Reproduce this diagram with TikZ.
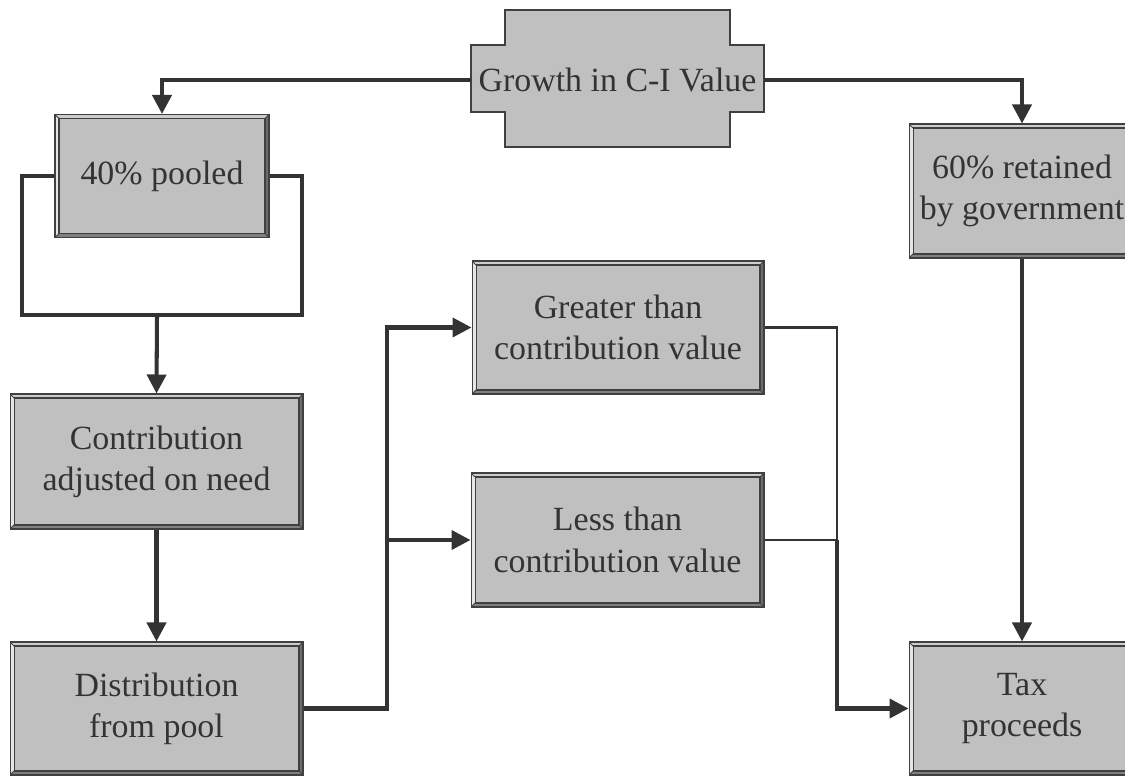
\documentclass[tikz,border=0pt]{standalone}
\usepackage{fontspec}
\setmainfont{Liberation Serif}
\usepackage{xcolor}
\usepackage{tikz}
\usetikzlibrary{arrows.meta}

\definecolor{boxgray}{RGB}{192,192,192}
\definecolor{edgegray}{RGB}{64,64,64}
\definecolor{textgray}{RGB}{51,51,51}
\definecolor{linegray}{RGB}{51,51,51}
\definecolor{bevlight}{RGB}{230,230,230}
\definecolor{bevtop}{RGB}{205,205,205}
\definecolor{bevdark}{RGB}{108,108,108}
\definecolor{bevbottom}{RGB}{128,128,128}

\newcommand{\boxfont}{\fontsize{19.3}{23.5}\selectfont}
\newcommand{\bevw}{0.08cm}

\tikzset{
	bevelbox/.style={draw=edgegray, line width=0.6pt, fill=boxgray, text=textgray,
		align=center, font=\boxfont, inner sep=2pt,
		path picture={
			\coordinate (bnw) at (path picture bounding box.north west);
			\coordinate (bse) at (path picture bounding box.south east);
			\coordinate (bsw) at (bnw |- bse);
			\coordinate (bne) at (bse |- bnw);
			\coordinate (inw) at ([shift={(\bevw,-\bevw)}]bnw);
			\coordinate (ine) at ([shift={(-\bevw,-\bevw)}]bne);
			\coordinate (ise) at ([shift={(-\bevw,\bevw)}]bse);
			\coordinate (isw) at ([shift={(\bevw,\bevw)}]bsw);
			\fill[bevlight] (bnw) -- (bsw) -- (isw) -- (inw) -- cycle;
			\fill[bevtop] (bnw) -- (bne) -- (ine) -- (inw) -- cycle;
			\fill[bevdark] (bne) -- (bse) -- (ise) -- (ine) -- cycle;
			\fill[bevbottom] (bsw) -- (bse) -- (ise) -- (isw) -- cycle;
			\draw[edgegray, line width=0.6pt] (inw) rectangle (ise);
			\draw[edgegray, line width=0.5pt] (bnw) -- (inw) (bne) -- (ine) (bse) -- (ise) (bsw) -- (isw);
		}},
	link/.style={draw=linegray, line width=2.3pt},
	thinlink/.style={draw=linegray, line width=1.4pt},
	flow/.style={link, -{Triangle[length=0.38cm, width=0.38cm]}},
}

\begin{document}
\begin{tikzpicture}[x=0.02cm, y=-0.02cm]
	\useasboundingbox (0,0) rectangle (1125,777);
	\clip (0,0) rectangle (1125,777);

	% top shape
	\draw[fill=boxgray, draw=edgegray, line width=0.6pt] (471,45) -- (505,45) -- (505,10) -- (730,10) -- (730,45) -- (764,45) -- (764,112) -- (730,112) -- (730,147) -- (505,147) -- (505,112) -- (471,112) -- cycle;
	\node[minimum width=5.86cm, minimum height=1.34cm, inner sep=0pt, font=\boxfont, text=textgray] (growth) at (617.5,80) {Growth in C-I Value};

	% boxes
	\node[bevelbox, minimum width=4.28cm, minimum height=2.46cm] (pooled) at (162,176) {40\% pooled};
	\node[bevelbox, minimum width=5.86cm, minimum height=2.7cm] (contrib) at (156.5,461.5) {Contribution\\adjusted on need};
	\node[bevelbox, minimum width=5.86cm, minimum height=2.66cm] (distrib) at (156.5,708.5) {Distribution\\from pool};
	\node[bevelbox, minimum width=5.84cm, minimum height=2.66cm] (greater) at (618,327.5) {Greater than\\contribution value};
	\node[bevelbox, minimum width=5.86cm, minimum height=2.68cm] (less) at (617.5,540) {Less than\\contribution value};
	\node[bevelbox, minimum width=4.52cm, minimum height=2.68cm] (govt) at (1022,191) {60\% retained\\by government};
	\node[bevelbox, minimum width=4.52cm, minimum height=2.66cm] (tax) at (1022,708.5) {Tax\\proceeds};

	% helper points
	\coordinate (poolL) at (22,315);
	\coordinate (poolR) at (302,315);
	\coordinate (poolmid) at (157,315);
	\coordinate (split) at (387,540);
	\coordinate (merge) at (837,540);

	% connectors
	\draw[flow] (growth.west) -| (pooled.north);
	\draw[flow] (growth.east) -| (govt.north);
	\draw[link] (pooled.west) -| (poolL) -- (poolR) |- (pooled.east);
	\draw[flow] (poolmid) -- (contrib.north);
	\draw[flow] (contrib) -- (distrib);
	\draw[link] (distrib.east) -| (split);
	\draw[flow] (split) |- (greater.west);
	\draw[flow] (split) -- (less.west);
	\draw[thinlink] (greater.east) -| (merge);
	\draw[thinlink] (less.east) -- (merge);
	\draw[flow] (merge) |- (tax.west);
	\draw[flow] (govt) -- (tax);
\end{tikzpicture}
\end{document}
